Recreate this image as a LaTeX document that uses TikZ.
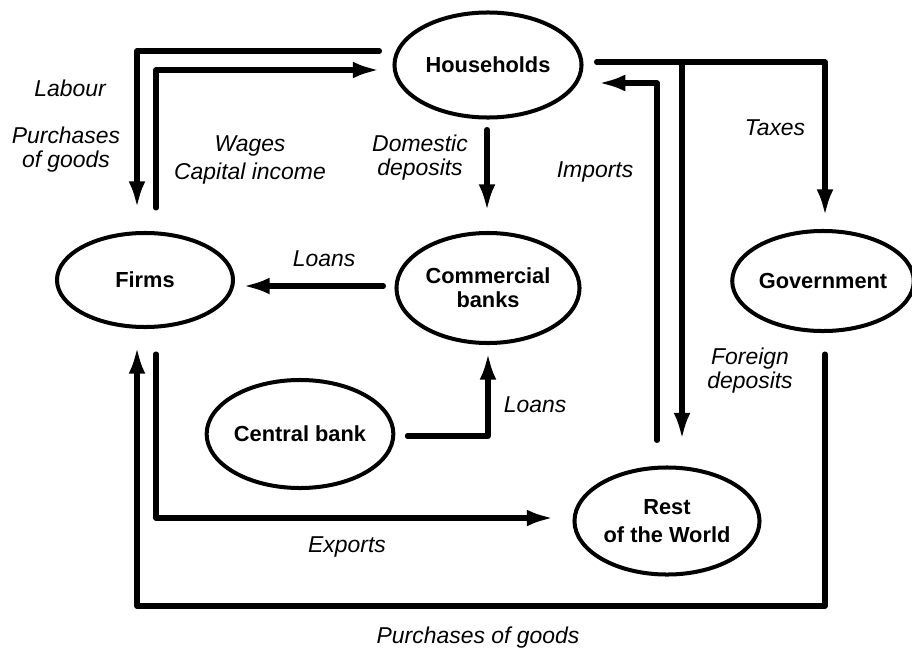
\documentclass[tikz,border=0pt]{standalone}
\usepackage{fontspec}
\setmainfont{Liberation Sans}
\usetikzlibrary{shapes.geometric, arrows.meta, calc}

\begin{document}
\begin{tikzpicture}[x=0.025cm, y=-0.025cm,
        agent/.style={draw, ellipse, line width=2.85pt, inner sep=0pt, align=center,
            font=\fontsize{15.5}{20}\selectfont\bfseries},
        flow/.style={line width=3.6pt, line cap=round, line join=round,
            -{Latex[length=19pt, width=12pt]}},
        lbl/.style={align=center, font=\fontsize{16.3}{17}\selectfont\itshape}]
        \useasboundingbox (0,0) rectangle (912,650);
        % sectors
        \node[agent, minimum width=4.675cm, minimum height=2.625cm] (hh) at (488,65) {Households};
        \node[agent, minimum width=4.4cm, minimum height=2.35cm] (fi) at (145,280) {Firms};
        \node[agent, minimum width=4.575cm, minimum height=2.75cm,
            font=\fontsize{15.5}{17}\selectfont\bfseries] (cbk) at (488,288) {Commercial\\banks};
        \node[agent, minimum width=4.35cm, minimum height=2.5cm] (gov) at (823,281) {Government};
        \node[agent, minimum width=4.625cm, minimum height=2.7cm] (cen) at (300,434) {Central bank};
        \node[agent, minimum width=4.625cm, minimum height=2.675cm] (rw) at (667,521) {Rest\\of the World};
        % flows
        \coordinate (tx) at ($(hh.east)+(13,-3)$);
        \coordinate (fd) at ($(rw.north)+(15,-26)$);
        \draw[flow] ($(hh.west)+(-13,-14)$) -| ($(fi.north)+(-8,-23)$);
        \draw[flow] ($(fi.north)+(11,-23)$) |- ($(hh.west)+(-13,5)$);
        \draw[flow] ($(hh.south)+(-1,10)$) -- ($(cbk.north)+(-1,-20)$);
        \draw[flow] (tx) -| ($(gov.north)+(2,-13)$);
        \draw[flow] (fd |- tx) -- (fd);
        \draw[flow] ($(rw.north)+(-10,-25)$) |- ($(hh.east)+(15,18)$);
        \draw[flow] ($(cbk.west)+(-11,-2)$) -- ($(cbk.west -| fi.east)+(8,-2)$);
        \draw[flow] ($(cen.east)+(12,2)$) -| ($(cbk.south)+(0,8)$);
        \draw[flow] ($(fi.south)+(11,25)$) |- ($(rw.west)+(-19,-3)$);
        \draw[flow] ($(gov.south)+(2,21)$) |- ($(fi.south)+(-8,277)$) -- ($(fi.south)+(-8,18)$);
        % labels
        \node[lbl] (lLab) at (70,88) {Labour};
        \node[lbl] (lPur) at (66,150) {Purchases\\of goods};
        \node[lbl, font=\fontsize{16.3}{20}\selectfont\itshape] (lWag) at (250,160) {Wages\\Capital income};
        \node[lbl] (lDom) at (420,158) {Domestic\\deposits};
        \node[lbl] (lImp) at (595,172) {Imports};
        \node[lbl] (lTax) at (775,128) {Taxes};
        \node[lbl] (lLoF) at (324,259) {Loans};
        \node[lbl] (lLoC) at (535,405) {Loans};
        \node[lbl] (lFor) at (750,371) {Foreign\\deposits};
        \node[lbl] (lExp) at (347,547) {Exports};
        \node[lbl] (lPgo) at (478,638) {Purchases of goods};
    \end{tikzpicture}
\end{document}
